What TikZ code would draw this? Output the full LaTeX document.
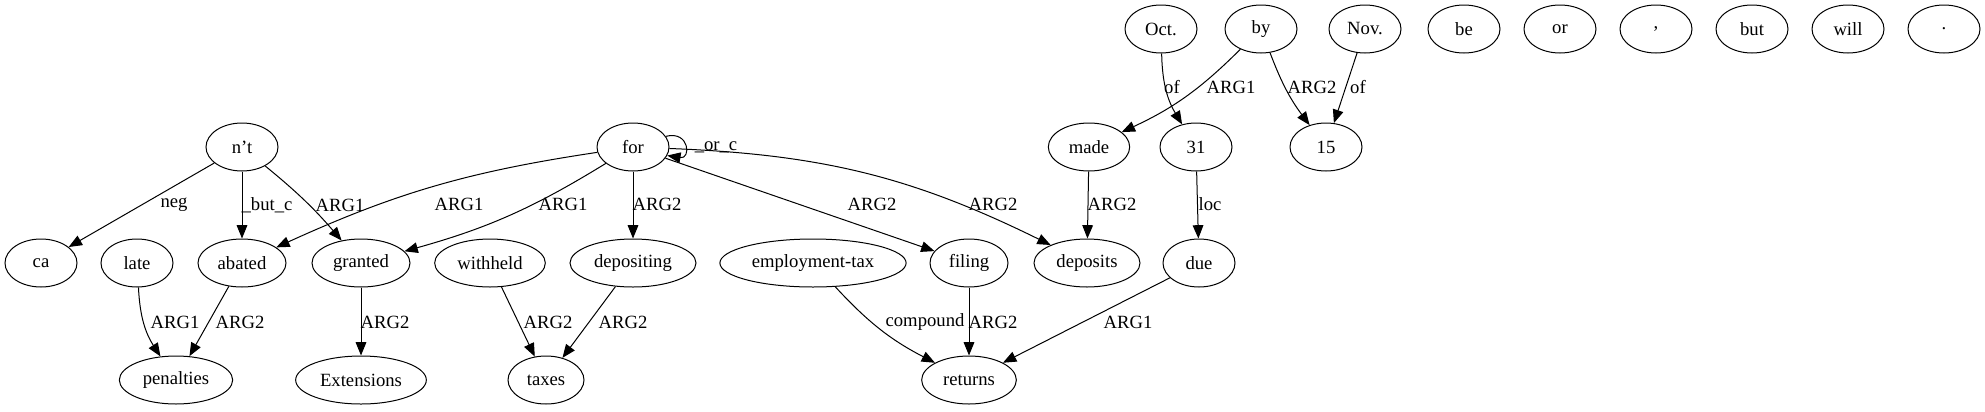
\documentclass[tikz,border=0pt]{standalone}
\usepackage{fontspec}
\setmainfont{Liberation Serif}
\usetikzlibrary{shapes.geometric,arrows.meta}
\begin{document}
\begin{tikzpicture}[x=0.75pt,y=0.75pt,line width=0.75pt,
        tok/.style={draw,ellipse,minimum width=54pt,minimum height=36pt,inner sep=3.5pt,font=\fontsize{14}{16}\selectfont},
        lbl/.style={inner sep=0pt,font=\fontsize{14}{16}\selectfont},
        >={Triangle[length=10pt,width=8pt]}]
        \useasboundingbox (0,0) rectangle (1985,-411);

        % tokens, top row
        \node[tok] (oct) at (1161,-29) {Oct.};
        \node[tok] (by) at (1261,-29) {by};
        \node[tok] (nov) at (1365,-29) {Nov.};
        \node[tok] (be) at (1464,-29) {be};
        \node[tok] (or) at (1560,-29) {or};
        \node[tok] (comma) at (1656,-29) {,};
        \node[tok] (but) at (1752,-29) {but};
        \node[tok] (will) at (1848,-29) {will};
        \node[tok] (dot) at (1944,-29) {.};

        % second row
        \node[tok] (nt) at (242,-147) {n’t};
        \node[tok] (for) at (633,-147) {for};
        \node[tok, minimum width=61pt] (made) at (1089,-147) {made};
        \node[tok] (thirtyone) at (1196,-147) {31};
        \node[tok] (fifteen) at (1326,-147) {15};

        % third row
        \node[tok] (ca) at (41,-263) {ca};
        \node[tok] (late) at (137,-263) {late};
        \node[tok, minimum width=66pt] (abated) at (242,-263) {abated};
        \node[tok, minimum width=73.5pt] (granted) at (361,-263) {granted};
        \node[tok, minimum width=83pt] (withheld) at (490,-263) {withheld};
        \node[tok, minimum width=94.5pt] (depositing) at (633,-263) {depositing};
        \node[tok, minimum width=139pt] (emptax) at (813,-263) {employment-tax};
        \node[tok, minimum width=58.5pt] (filing) at (969,-263) {filing};
        \node[tok, minimum width=79.5pt] (deposits) at (1087,-263) {deposits};
        \node[tok] (due) at (1199,-263) {due};

        % bottom row
        \node[tok, minimum width=85pt] (penalties) at (176,-380) {penalties};
        \node[tok, minimum width=98pt] (extensions) at (361,-380) {Extensions};
        \node[tok, minimum width=57pt] (taxes) at (546,-380) {taxes};
        \node[tok, minimum width=71pt] (returns) at (969,-380) {returns};

        % edges from n't
        \draw[->] (nt) -- (ca);
        \draw[->] (nt) -- (abated);
        \draw[->] (nt) to[bend left=5] (granted);
        \node[lbl] (lneg) at (174,-205) {neg};
        \node[lbl] (lbutc) at (267,-205) {\_but\_c};
        \node[lbl] (lntgr) at (340,-205) {ARG1};

        % edges from for
        \draw[->] (for) to[bend right=8] (abated);
        \draw[->] (for) to[bend left=8] (granted);
        \draw[->] (for) -- (depositing);
        \draw[->] (for) -- (filing);
        \draw[->] (for) to[bend left=12] (deposits);
        \draw[->] (for.18) .. controls +(24,6) and +(24,-4) .. (for.-14);
        \node[lbl] (lorc) at (716,-147) {\_or\_c};
        \node[lbl] (lforab) at (459,-204) {ARG1};
        \node[lbl] (lforgr) at (563,-204) {ARG1};
        \node[lbl] (lforde) at (657,-204) {ARG2};
        \node[lbl] (lforfi) at (872,-204) {ARG2};
        \node[lbl] (lfords) at (993,-204) {ARG2};

        % edges to the bottom row
        \draw[->] (late) to[bend right=15] (penalties);
        \draw[->] (abated) -- (penalties);
        \draw[->] (granted) -- (extensions);
        \draw[->] (withheld) -- (taxes);
        \draw[->] (depositing) -- (taxes);
        \draw[->] (emptax) to[bend right=10] (returns);
        \draw[->] (filing) -- (returns);
        \draw[->] (due) -- (returns);
        \node[lbl] (llate) at (175,-322) {ARG1};
        \node[lbl] (labat) at (240,-322) {ARG2};
        \node[lbl] (lgran) at (385,-322) {ARG2};
        \node[lbl] (lwith) at (548,-322) {ARG2};
        \node[lbl] (ldepo) at (623,-322) {ARG2};
        \node[lbl] (lcomp) at (925,-322) {compound};
        \node[lbl] (lfili) at (993,-322) {ARG2};
        \node[lbl] (ldue) at (1128,-322) {ARG1};

        % right part
        \draw[->] (made) -- (deposits);
        \draw[->] (thirtyone) -- (due);
        \draw[->] (by) to[bend left=10] (made);
        \draw[->] (oct) to[bend right=15] (thirtyone);
        \draw[->] (by) to[bend right=8] (fifteen);
        \draw[->] (nov) -- (fifteen);
        \node[lbl] (lmade) at (1112,-204) {ARG2};
        \node[lbl] (lloc) at (1210,-204) {loc};
        \node[lbl] (loct) at (1172,-87) {of};
        \node[lbl] (lbyma) at (1231,-87) {ARG1};
        \node[lbl] (lby15) at (1312,-87) {ARG2};
        \node[lbl] (lnov) at (1358,-87) {of};
    \end{tikzpicture}
\end{document}
